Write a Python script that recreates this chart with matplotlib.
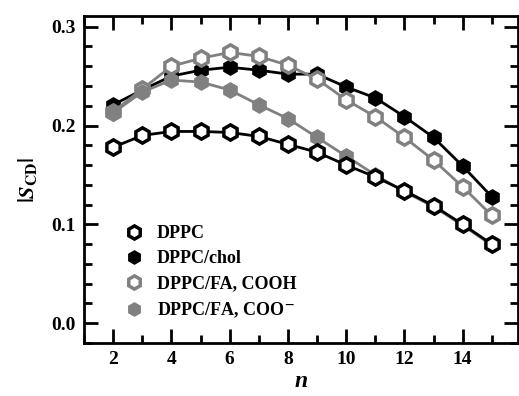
import matplotlib
matplotlib.use("Agg")
import matplotlib.pyplot as plt
from matplotlib.ticker import MultipleLocator
from matplotlib.lines import Line2D

plt.rcParams['font.family'] = ['Liberation Serif', 'DejaVu Serif']
plt.rcParams['font.weight'] = 'bold'
plt.rcParams['mathtext.fontset'] = 'stix'

n = list(range(2, 16))
dppc = [0.178, 0.190, 0.194, 0.194, 0.193, 0.189, 0.181, 0.173, 0.160, 0.148, 0.134, 0.119, 0.100, 0.080]
chol = [0.221, 0.236, 0.250, 0.256, 0.259, 0.256, 0.252, 0.252, 0.239, 0.228, 0.209, 0.188, 0.159, 0.128]
cooh = [0.214, 0.237, 0.260, 0.268, 0.274, 0.270, 0.261, 0.247, 0.226, 0.209, 0.188, 0.165, 0.138, 0.109]
coo = [0.213, 0.234, 0.246, 0.244, 0.236, 0.221, 0.207, 0.188, 0.169, 0.150, 0.133, 0.118, 0.099, 0.079]
labels = ['DPPC', 'DPPC/chol', 'DPPC/FA, COOH', r'DPPC/FA, COO$^{\mathbf{-}}$']

grey = '#808080'
fig = plt.figure(figsize=(5.19, 3.96), dpi=100)
ax = fig.add_axes([0.162, 0.134, 0.836, 0.826])

ms = 11
ax.plot(n, chol, '-', color='black', lw=2, marker='h', ms=ms, mfc='black', mec='black', mew=1, zorder=3)
ax.plot(n, cooh, '-', color=grey, lw=2, marker='h', ms=ms, mfc='white', mec=grey, mew=2.5, zorder=4)
ax.plot(n, coo, '-', color=grey, lw=2, marker='h', ms=ms, mfc=grey, mec=grey, mew=1, zorder=5)
ax.plot(n, dppc, '-', color='black', lw=2, marker='h', ms=ms, mfc='white', mec='black', mew=2.5, zorder=6)

handles = [
    Line2D([], [], ls='none', marker='h', ms=9.5, mfc='white', mec='black', mew=2.5),
    Line2D([], [], ls='none', marker='h', ms=9.5, mfc='black', mec='black', mew=1),
    Line2D([], [], ls='none', marker='h', ms=9.5, mfc='white', mec=grey, mew=2.5),
    Line2D([], [], ls='none', marker='h', ms=9.5, mfc=grey, mec=grey, mew=1),
]
leg = ax.legend(handles, labels, loc='lower left', bbox_to_anchor=(0.057, 0.02), frameon=False,
                prop={'size': 13, 'weight': 'bold'}, handlelength=1.0, handletextpad=0.75,
                labelspacing=0.45)

ax.set_xlim(1.0, 15.9)
ax.set_ylim(-0.02, 0.311)
ax.xaxis.set_major_locator(MultipleLocator(2))
ax.xaxis.set_minor_locator(MultipleLocator(1))
ax.yaxis.set_major_locator(MultipleLocator(0.1))
ax.yaxis.set_minor_locator(MultipleLocator(0.02))
ax.tick_params(which='both', direction='in', top=True, right=True, width=2, labelsize=14)
ax.tick_params(which='major', length=10, pad=6)
ax.tick_params(which='minor', length=6)
for s in ax.spines.values():
    s.set_linewidth(2)
for lab in ax.get_xticklabels() + ax.get_yticklabels():
    lab.set_fontweight('bold')

ax.set_xlabel('n', fontsize=17, style='italic', fontweight='bold', labelpad=2)
ax.set_ylabel(r'$|S_{\mathrm{CD}}|$', fontsize=16, labelpad=9)

fig.savefig('out.png', dpi=100)
